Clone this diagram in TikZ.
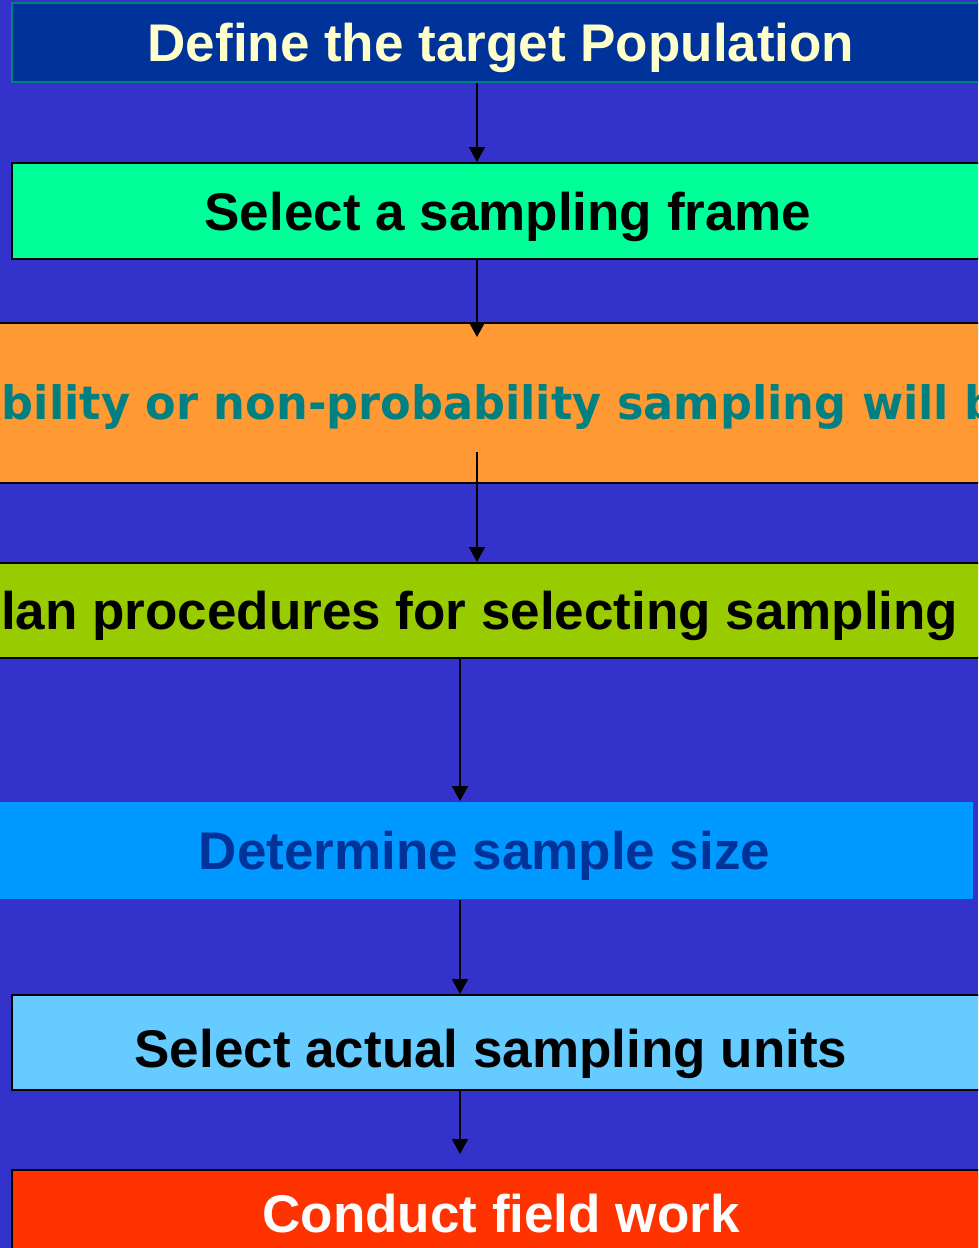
\documentclass[tikz,border=0pt]{standalone}
\usepackage{fontspec}
\setmainfont{Liberation Sans}
\newfontfamily\humfont{DejaVu Sans}[FakeStretch=0.97]
\usetikzlibrary{arrows.meta,calc}
\definecolor{bgblue}{HTML}{3333CC}
\definecolor{navybox}{HTML}{003399}
\definecolor{tealline}{HTML}{008080}
\definecolor{creamtext}{HTML}{FFFFCC}
\definecolor{greenbox}{HTML}{00FF99}
\definecolor{orangebox}{HTML}{FF9933}
\definecolor{limebox}{HTML}{99CC00}
\definecolor{skybox}{HTML}{0099FF}
\definecolor{paleblue}{HTML}{66CCFF}
\definecolor{redbox}{HTML}{FF3300}
\tikzset{
  stepbox/.style={rectangle,draw=black,line width=2pt,inner sep=0pt,
    text height=38pt,text depth=0pt,font=\fontsize{53}{60}\selectfont\bfseries},
  flow/.style={-{Triangle[length=15pt,width=16pt]},line width=2pt}
}
\begin{document}
\begin{tikzpicture}[x=1pt,y=-1pt]
\useasboundingbox (0,0) rectangle (978,1248);
\clip (0,0) rectangle (978,1248);
\fill[bgblue] (0,0) rectangle (978,1248);
% the steps
\node (define) [stepbox,draw=tealline,line width=1.5pt,fill=navybox,text=creamtext,
  minimum width=978pt,minimum height=79pt] at (501,42.5) {Define the target Population};
\node (frame) [stepbox,fill=greenbox,minimum width=992pt,minimum height=96pt]
  at (508,211) {Select a sampling frame};
\node (decide) [stepbox,fill=orangebox,text=tealline,minimum width=1400pt,minimum height=160pt,
  font=\fontsize{46}{56}\selectfont\humfont\bfseries,text height=33pt] at (441,403)
  {probability or non-probability sampling will be};
\node (plan) [stepbox,fill=limebox,minimum width=1400pt,minimum height=95pt]
  at (462,610.5) {Plan procedures for selecting sampling};
\node (size) [stepbox,draw=none,fill=skybox,text=navybox,minimum width=977pt,minimum height=97pt]
  at (484.5,850.5) {Determine sample size};
\node (units) [stepbox,fill=paleblue,minimum width=978pt,minimum height=95pt,text height=50pt]
  at (501,1042.5) {Select actual sampling units\hspace*{20pt}};
\node (field) [stepbox,fill=redbox,text=white,minimum width=978pt,minimum height=86pt]
  at (501,1213) {Conduct field work};
%
\coordinate (upper) at (477,0);
\coordinate (lower) at (460,0);
\draw[flow] (define.south -| upper) -- (frame.north -| upper);
\draw[flow] (frame.south -| upper) -- ($(decide.north -| upper)+(0,15)$);
\draw[flow] ($(decide.south -| upper)+(0,-32)$) -- (plan.north -| upper);
\draw[flow] (plan.south -| lower) -- (size.north -| lower);
\draw[flow] (size.south -| lower) -- (units.north -| lower);
\draw[flow] (units.south -| lower) -- ($(field.north -| lower)+(0,-15)$);
\end{tikzpicture}
\end{document}
